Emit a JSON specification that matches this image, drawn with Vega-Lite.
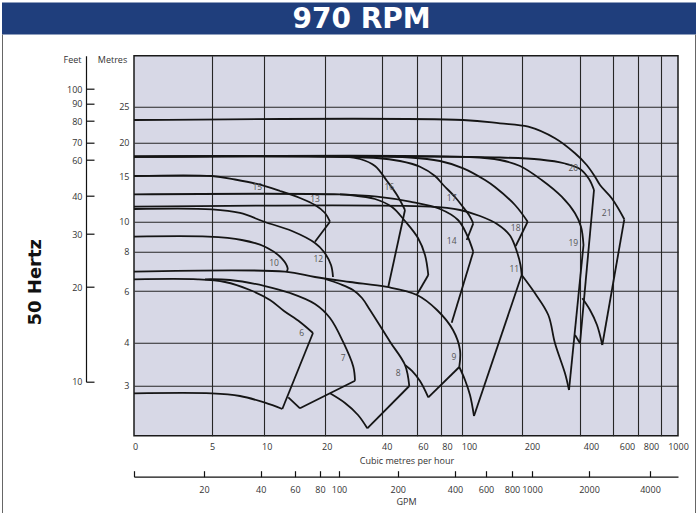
{
  "$schema": "https://vega.github.io/schema/vega-lite/v6.json",
  "width": 544,
  "height": 380,
  "autosize": {"type": "none"},
  "padding": {"left": 134, "top": 55.7, "right": 19, "bottom": 77.3},
  "background": "white",
  "config": {"font": "Open Sans"},
  "view": {"fill": "#d7d8e6", "stroke": "#1a1a1a", "strokeWidth": 1.5},
  "resolve": {"scale": {"x": "independent", "y": "independent"}, "axis": {"x": "independent", "y": "independent"}},
  "layer": [
    {
      "data": {"values": [
        {"s": "21t", "o": 1, "q": 0, "h": 23.153},
        {"s": "21t", "o": 2, "q": 101.67, "h": 23.153},
        {"s": "21t", "o": 3, "q": 163.33, "h": 22.694},
        {"s": "21t", "o": 4, "q": 221.72, "h": 22.222},
        {"s": "21t", "o": 5, "q": 313.79, "h": 20.611},
        {"s": "21t", "o": 6, "q": 382.76, "h": 18.408},
        {"s": "21t", "o": 7, "q": 440.61, "h": 16.652},
        {"s": "21t", "o": 8, "q": 490.91, "h": 14.923},
        {"s": "21t", "o": 9, "q": 521.21, "h": 14.015},
        {"s": "21t", "o": 10, "q": 592.12, "h": 12.56},
        {"s": "21t", "o": 11, "q": 690.4, "h": 10.263},
        {"s": "21r", "o": 1, "q": 690.4, "h": 10.263},
        {"s": "21r", "o": 2, "q": 535.15, "h": 3.947},
        {"s": "21b", "o": 1, "q": 413.94, "h": 5.718},
        {"s": "21b", "o": 2, "q": 460.61, "h": 5.265},
        {"s": "21b", "o": 3, "q": 503.03, "h": 4.685},
        {"s": "21b", "o": 4, "q": 535.15, "h": 3.947},
        {"s": "20t", "o": 1, "q": 0, "h": 17.898},
        {"s": "20t", "o": 2, "q": 163.33, "h": 17.778},
        {"s": "20t", "o": 3, "q": 262.07, "h": 17.477},
        {"s": "20t", "o": 4, "q": 348.28, "h": 16.877},
        {"s": "20t", "o": 5, "q": 400, "h": 16.051},
        {"s": "20t", "o": 6, "q": 454.55, "h": 14.672},
        {"s": "20t", "o": 7, "q": 484.85, "h": 13.468},
        {"s": "20r", "o": 1, "q": 484.85, "h": 13.468},
        {"s": "20r", "o": 2, "q": 400, "h": 3.986},
        {"s": "20b", "o": 1, "q": 382.76, "h": 4.298},
        {"s": "20b", "o": 2, "q": 400, "h": 3.986},
        {"s": "19t", "o": 1, "q": 0, "h": 17.898},
        {"s": "19t", "o": 2, "q": 113.33, "h": 17.853},
        {"s": "19t", "o": 3, "q": 163.33, "h": 17.402},
        {"s": "19t", "o": 4, "q": 196.67, "h": 16.502},
        {"s": "19t", "o": 5, "q": 267.93, "h": 14.562},
        {"s": "19t", "o": 6, "q": 336.9, "h": 12.735},
        {"s": "19t", "o": 7, "q": 382.76, "h": 10.919},
        {"s": "19t", "o": 8, "q": 406.06, "h": 9.667},
        {"s": "19t", "o": 9, "q": 421.21, "h": 8.447},
        {"s": "19r", "o": 1, "q": 421.21, "h": 8.447},
        {"s": "19r", "o": 2, "q": 362.07, "h": 2.914},
        {"s": "19b", "o": 1, "q": 199.5, "h": 6.814},
        {"s": "19b", "o": 2, "q": 244.83, "h": 5.911},
        {"s": "19b", "o": 3, "q": 290.69, "h": 5.072},
        {"s": "19b", "o": 4, "q": 313.79, "h": 3.986},
        {"s": "19b", "o": 5, "q": 348.28, "h": 3.288},
        {"s": "19b", "o": 6, "q": 362.07, "h": 2.914},
        {"s": "18t", "o": 1, "q": 0, "h": 17.898},
        {"s": "18t", "o": 2, "q": 56.0, "h": 17.778},
        {"s": "18t", "o": 3, "q": 79.17, "h": 17.252},
        {"s": "18t", "o": 4, "q": 102.17, "h": 16.156},
        {"s": "18t", "o": 5, "q": 138.33, "h": 14.562},
        {"s": "18t", "o": 6, "q": 155, "h": 13.796},
        {"s": "18t", "o": 7, "q": 188.33, "h": 11.827},
        {"s": "18t", "o": 8, "q": 219.66, "h": 10.0},
        {"s": "18r", "o": 1, "q": 219.66, "h": 10.0},
        {"s": "18r", "o": 2, "q": 189.5, "h": 8.38},
        {"s": "17t", "o": 1, "q": 0, "h": 17.898},
        {"s": "17t", "o": 2, "q": 38.14, "h": 17.703},
        {"s": "17t", "o": 3, "q": 50.29, "h": 17.252},
        {"s": "17t", "o": 4, "q": 62.5, "h": 16.396},
        {"s": "17t", "o": 5, "q": 75.0, "h": 15.0},
        {"s": "17t", "o": 6, "q": 82.19, "h": 14.015},
        {"s": "17t", "o": 7, "q": 93.33, "h": 12.702},
        {"s": "17t", "o": 8, "q": 101.67, "h": 11.609},
        {"s": "17t", "o": 9, "q": 111.67, "h": 10.733},
        {"s": "17t", "o": 10, "q": 118.83, "h": 9.893},
        {"s": "17r", "o": 1, "q": 118.83, "h": 9.893},
        {"s": "17r", "o": 2, "q": 107.83, "h": 8.78},
        {"s": "16t", "o": 1, "q": 0, "h": 17.898},
        {"s": "16t", "o": 2, "q": 26.32, "h": 17.883},
        {"s": "16t", "o": 3, "q": 32.28, "h": 17.553},
        {"s": "16t", "o": 4, "q": 37.54, "h": 16.502},
        {"s": "16t", "o": 5, "q": 42.86, "h": 14.453},
        {"s": "16t", "o": 6, "q": 48.57, "h": 12.921},
        {"s": "16t", "o": 7, "q": 53.14, "h": 11.28},
        {"s": "16r", "o": 1, "q": 53.14, "h": 11.28},
        {"s": "16r", "o": 2, "q": 43.6, "h": 6.219},
        {"s": "14t", "o": 1, "q": 0, "h": 12.998},
        {"s": "14t", "o": 2, "q": 25.26, "h": 12.987},
        {"s": "14t", "o": 3, "q": 38.25, "h": 12.735},
        {"s": "14t", "o": 4, "q": 56.0, "h": 12.188},
        {"s": "14t", "o": 5, "q": 79.17, "h": 11.39},
        {"s": "14t", "o": 6, "q": 96.19, "h": 10.186},
        {"s": "14t", "o": 7, "q": 108.33, "h": 9.113},
        {"s": "14t", "o": 8, "q": 118.83, "h": 8.0},
        {"s": "14r", "o": 1, "q": 118.83, "h": 8.0},
        {"s": "14r", "o": 2, "q": 90.19, "h": 4.774},
        {"s": "13t", "o": 1, "q": 25.26, "h": 12.987},
        {"s": "13t", "o": 2, "q": 28.77, "h": 12.921},
        {"s": "13t", "o": 3, "q": 37.54, "h": 12.484},
        {"s": "13t", "o": 4, "q": 45.71, "h": 11.609},
        {"s": "13t", "o": 5, "q": 53.14, "h": 10.077},
        {"s": "13t", "o": 6, "q": 60.83, "h": 8.913},
        {"s": "13t", "o": 7, "q": 66.67, "h": 7.832},
        {"s": "13t", "o": 8, "q": 69.42, "h": 6.814},
        {"s": "13r", "o": 1, "q": 69.42, "h": 6.814},
        {"s": "13r", "o": 2, "q": 59.83, "h": 5.845},
        {"s": "15t", "o": 1, "q": 0, "h": 15},
        {"s": "15t", "o": 2, "q": 5, "h": 15},
        {"s": "15t", "o": 3, "q": 7.21, "h": 14.617},
        {"s": "15t", "o": 4, "q": 9.33, "h": 14.125},
        {"s": "15t", "o": 5, "q": 12.62, "h": 13.359},
        {"s": "15t", "o": 6, "q": 15.9, "h": 12.593},
        {"s": "15t", "o": 7, "q": 18.36, "h": 11.827},
        {"s": "15t", "o": 8, "q": 20, "h": 10.952},
        {"s": "15t", "o": 9, "q": 21.75, "h": 10.0},
        {"s": "15r", "o": 1, "q": 21.75, "h": 10.0},
        {"s": "15r", "o": 2, "q": 18.36, "h": 8.667},
        {"s": "11t", "o": 1, "q": 0, "h": 11.641},
        {"s": "11t", "o": 2, "q": 70.83, "h": 11.641},
        {"s": "11t", "o": 3, "q": 98.1, "h": 11.28},
        {"s": "11t", "o": 4, "q": 130, "h": 10.624},
        {"s": "11t", "o": 5, "q": 158.33, "h": 9.847},
        {"s": "11t", "o": 6, "q": 180, "h": 9.08},
        {"s": "11t", "o": 7, "q": 191.67, "h": 7.985},
        {"s": "11t", "o": 8, "q": 197.5, "h": 7.323},
        {"s": "11t", "o": 9, "q": 199.5, "h": 6.814},
        {"s": "11r", "o": 1, "q": 199.5, "h": 6.814},
        {"s": "11r", "o": 2, "q": 120, "h": 2.394},
        {"s": "11b", "o": 1, "q": 97.43, "h": 3.435},
        {"s": "11b", "o": 2, "q": 105, "h": 3.133},
        {"s": "11b", "o": 3, "q": 113.33, "h": 2.814},
        {"s": "11b", "o": 4, "q": 120, "h": 2.394},
        {"s": "12t", "o": 1, "q": 0, "h": 11.39},
        {"s": "12t", "o": 2, "q": 5, "h": 11.357},
        {"s": "12t", "o": 3, "q": 7.69, "h": 10.952},
        {"s": "12t", "o": 4, "q": 10.16, "h": 9.98},
        {"s": "12t", "o": 5, "q": 14.59, "h": 9.38},
        {"s": "12t", "o": 6, "q": 18.36, "h": 8.58},
        {"s": "12t", "o": 7, "q": 19.84, "h": 7.985},
        {"s": "12t", "o": 8, "q": 22.11, "h": 7.323},
        {"s": "12t", "o": 9, "q": 22.81, "h": 6.712},
        {"s": "10t", "o": 1, "q": 0, "h": 9.0},
        {"s": "10t", "o": 2, "q": 4.74, "h": 9.0},
        {"s": "10t", "o": 3, "q": 7.86, "h": 8.78},
        {"s": "10t", "o": 4, "q": 10.16, "h": 8.333},
        {"s": "10t", "o": 5, "q": 12.9, "h": 7.664},
        {"s": "10t", "o": 6, "q": 13.88, "h": 7.155},
        {"s": "10t", "o": 7, "q": 13.72, "h": 6.982},
        {"s": "9t", "o": 1, "q": 0, "h": 6.982},
        {"s": "9t", "o": 2, "q": 13.44, "h": 6.982},
        {"s": "9t", "o": 3, "q": 18.36, "h": 6.712},
        {"s": "9t", "o": 4, "q": 28.77, "h": 6.458},
        {"s": "9t", "o": 5, "q": 42.86, "h": 6.204},
        {"s": "9t", "o": 6, "q": 60, "h": 5.845},
        {"s": "9t", "o": 7, "q": 76.67, "h": 5.265},
        {"s": "9t", "o": 8, "q": 91.43, "h": 4.491},
        {"s": "9t", "o": 9, "q": 98.1, "h": 3.83},
        {"s": "9t", "o": 10, "q": 97.43, "h": 3.435},
        {"s": "9r", "o": 1, "q": 97.43, "h": 3.435},
        {"s": "9r", "o": 2, "q": 69.42, "h": 2.768},
        {"s": "9b", "o": 1, "q": 53.14, "h": 3.481},
        {"s": "9b", "o": 2, "q": 57.14, "h": 3.342},
        {"s": "9b", "o": 3, "q": 62.5, "h": 3.109},
        {"s": "9b", "o": 4, "q": 69.42, "h": 2.768},
        {"s": "8t", "o": 1, "q": 20, "h": 6.611},
        {"s": "8t", "o": 2, "q": 25.26, "h": 6.356},
        {"s": "8t", "o": 3, "q": 29.82, "h": 6.051},
        {"s": "8t", "o": 4, "q": 32.98, "h": 5.729},
        {"s": "8t", "o": 5, "q": 35.79, "h": 5.265},
        {"s": "8t", "o": 6, "q": 44.57, "h": 4.039},
        {"s": "8t", "o": 7, "q": 53.14, "h": 3.481},
        {"s": "8t", "o": 8, "q": 55.6, "h": 2.994},
        {"s": "8r", "o": 1, "q": 55.6, "h": 2.994},
        {"s": "8r", "o": 2, "q": 34.84, "h": 2.148},
        {"s": "8b", "o": 1, "q": 21.75, "h": 2.848},
        {"s": "8b", "o": 2, "q": 27.02, "h": 2.654},
        {"s": "8b", "o": 3, "q": 31.58, "h": 2.414},
        {"s": "8b", "o": 4, "q": 34.84, "h": 2.148},
        {"s": "7t", "o": 1, "q": 4.55, "h": 6.595},
        {"s": "7t", "o": 2, "q": 6.73, "h": 6.56},
        {"s": "7t", "o": 3, "q": 10.16, "h": 6.254},
        {"s": "7t", "o": 4, "q": 14.26, "h": 5.923},
        {"s": "7t", "o": 5, "q": 18.36, "h": 5.497},
        {"s": "7t", "o": 6, "q": 21.75, "h": 4.955},
        {"s": "7t", "o": 7, "q": 26.32, "h": 4.039},
        {"s": "7t", "o": 8, "q": 29.93, "h": 3.442},
        {"s": "7t", "o": 9, "q": 30.53, "h": 3.116},
        {"s": "7r", "o": 1, "q": 30.53, "h": 3.116},
        {"s": "7r", "o": 2, "q": 15.9, "h": 2.548},
        {"s": "7b", "o": 1, "q": 13.98, "h": 2.768},
        {"s": "7b", "o": 2, "q": 15.9, "h": 2.548},
        {"s": "6t", "o": 1, "q": 0, "h": 6.595},
        {"s": "6t", "o": 2, "q": 4.1, "h": 6.595},
        {"s": "6t", "o": 3, "q": 6.25, "h": 6.458},
        {"s": "6t", "o": 4, "q": 8.65, "h": 6.051},
        {"s": "6t", "o": 5, "q": 10.98, "h": 5.652},
        {"s": "6t", "o": 6, "q": 13.28, "h": 5.226},
        {"s": "6t", "o": 7, "q": 15.9, "h": 4.801},
        {"s": "6t", "o": 8, "q": 18.03, "h": 4.375},
        {"s": "6r", "o": 1, "q": 18.03, "h": 4.375},
        {"s": "6r", "o": 2, "q": 13.0, "h": 2.534},
        {"s": "6b", "o": 1, "q": 0, "h": 2.848},
        {"s": "6b", "o": 2, "q": 4.98, "h": 2.848},
        {"s": "6b", "o": 3, "q": 7.69, "h": 2.794},
        {"s": "6b", "o": 4, "q": 10.16, "h": 2.66},
        {"s": "6b", "o": 5, "q": 13.0, "h": 2.534}
      ]},
      "mark": {"type": "line", "color": "#151515", "strokeWidth": 1.8, "interpolate": "catmull-rom"},
      "encoding": {
        "x": {"field": "q", "type": "quantitative",
              "scale": {"domain": [0, 5, 10, 20, 40, 60, 80, 100, 200, 400, 600, 800, 1000, 1200], "range": [0, 78, 130, 191, 248, 283, 307, 328, 388, 446, 479, 504, 527, 544], "nice": false, "zero": false},
              "axis": {"grid": true, "values": [5, 10, 20, 40, 60, 80, 100, 200, 400, 600, 800, 1000], "labels": false, "ticks": false, "domain": false, "title": null, "gridColor": "#262626", "gridWidth": 1.1, "gridOpacity": 1}},
        "y": {"field": "h", "type": "quantitative",
              "scale": {"domain": [2, 3, 4, 6, 8, 10, 15, 20, 25, 37], "range": [380, 330, 287, 235.3, 196, 166, 120.3, 87, 51, 0], "nice": false, "zero": false},
              "axis": {"orient": "left", "grid": true, "values": [3, 4, 6, 8, 10, 15, 20, 25], "ticks": false, "domain": false, "labelFontSize": 9, "labelColor": "#333", "labelPadding": 5, "gridColor": "#262626", "gridWidth": 1.1, "gridOpacity": 1,
                       "title": "Metres", "titleAngle": 0, "titleX": -22, "titleY": 4, "titleAlign": "center", "titleBaseline": "middle", "titleFontSize": 9, "titleFontWeight": "normal", "titleColor": "#333"}},
        "detail": {"field": "s"},
        "order": {"field": "o"}
      }
    },
    {
      "data": {"values": [
        {"n": "6", "q": 16.18, "h": 4.387},
        {"n": "7", "q": 26.42, "h": 3.637},
        {"n": "8", "q": 49.31, "h": 3.288},
        {"n": "9", "q": 92.38, "h": 3.674},
        {"n": "10", "q": 11.64, "h": 7.44},
        {"n": "11", "q": 187.2, "h": 7.104},
        {"n": "12", "q": 18.9, "h": 7.613},
        {"n": "13", "q": 18.36, "h": 12.45},
        {"n": "14", "q": 90.19, "h": 8.733},
        {"n": "15", "q": 9.356, "h": 13.76},
        {"n": "16", "q": 44.17, "h": 13.76},
        {"n": "17", "q": 90.19, "h": 12.56},
        {"n": "18", "q": 189.5, "h": 9.6},
        {"n": "19", "q": 376.9, "h": 8.56},
        {"n": "20", "q": 376.9, "h": 16.16},
        {"n": "21", "q": 561.8, "h": 10.92}
      ]},
      "mark": {"type": "text", "fontSize": 8.5, "color": "#555"},
      "encoding": {
        "x": {"field": "q", "type": "quantitative", "scale": {"domain": [0, 5, 10, 20, 40, 60, 80, 100, 200, 400, 600, 800, 1000, 1200], "range": [0, 78, 130, 191, 248, 283, 307, 328, 388, 446, 479, 504, 527, 544], "nice": false, "zero": false}, "axis": null},
        "y": {"field": "h", "type": "quantitative", "scale": {"domain": [2, 3, 4, 6, 8, 10, 15, 20, 25, 37], "range": [380, 330, 287, 235.3, 196, 166, 120.3, 87, 51, 0], "nice": false, "zero": false}, "axis": null},
        "text": {"field": "n"}
      }
    },
    {
      "data": {"values": [{"ft": 10}, {"ft": 20}, {"ft": 30}, {"ft": 40}, {"ft": 60}, {"ft": 70}, {"ft": 80}, {"ft": 90}, {"ft": 100}]},
      "mark": {"type": "point", "opacity": 0},
      "encoding": {
        "y": {"field": "ft", "type": "quantitative",
              "scale": {"domain": [10, 20, 30, 40, 60, 70, 80, 90, 100, 135], "range": [326, 231.3, 178.3, 140.3, 104.3, 86.6, 65.3, 47.8, 33.3, 0], "nice": false, "zero": false},
              "axis": {"orient": "left", "offset": 48, "values": [10, 20, 30, 40, 60, 70, 80, 90, 100], "tickSize": -8, "tickColor": "#111", "tickWidth": 1.2, "domainColor": "#111", "domainWidth": 1.2, "labelPadding": 12, "labelFontSize": 9, "labelColor": "#333", "grid": false,
                       "title": "Feet", "titleAngle": 0, "titleX": -14, "titleY": 4, "titleAlign": "center", "titleBaseline": "middle", "titleFontSize": 9, "titleFontWeight": "normal", "titleColor": "#333"}}
      }
    },
    {
      "data": {"values": [{"v": 0}, {"v": 1}]},
      "mark": {"type": "point", "opacity": 0},
      "encoding": {
        "y": {"field": "v", "type": "quantitative", "scale": {"domain": [0, 1], "range": [457.3, -21.7], "nice": false, "zero": false},
              "axis": {"orient": "left", "offset": 132, "domain": true, "domainColor": "#666", "domainWidth": 1, "ticks": false, "labels": false, "grid": false,
                       "title": "50 Hertz", "titleAngle": -90, "titleX": 33, "titleY": 226, "titleAlign": "center", "titleBaseline": "middle", "titleFont": "DejaVu Sans", "titleFontSize": 18, "titleFontWeight": "bold", "titleColor": "#111"}}
      }
    },
    {
      "data": {"values": [{"v": 0}, {"v": 1}]},
      "mark": {"type": "point", "opacity": 0},
      "encoding": {
        "y": {"field": "v", "type": "quantitative", "scale": {"domain": [0, 1], "range": [457.3, -21.7], "nice": false, "zero": false},
              "axis": {"orient": "right", "offset": 17, "domain": true, "domainColor": "#666", "domainWidth": 1, "ticks": false, "labels": false, "grid": false, "title": null}}
      }
    },
    {
      "data": {"values": [{"v": 0}, {"v": 1}]},
      "mark": {"type": "point", "opacity": 0},
      "encoding": {
        "x": {"field": "v", "type": "quantitative", "scale": {"domain": [0, 1], "range": [-132.5, 561.5], "nice": false, "zero": false},
              "axis": {"orient": "top", "offset": 37.7, "domain": true, "domainColor": "#1f3e7c", "domainWidth": 32, "ticks": false, "labels": false, "grid": false,
                       "title": "970 RPM", "titleX": 227, "titleY": 1, "titleAlign": "center", "titleBaseline": "middle", "titleFont": "DejaVu Sans", "titleFontSize": 28, "titleFontWeight": "bold", "titleColor": "white"}}
      }
    },
    {
      "data": {"values": [{"q": 0}, {"q": 5}, {"q": 10}, {"q": 20}, {"q": 40}, {"q": 60}, {"q": 80}, {"q": 100}, {"q": 200}, {"q": 400}, {"q": 600}, {"q": 800}, {"q": 1000}]},
      "mark": {"type": "point", "opacity": 0},
      "encoding": {
        "x": {"field": "q", "type": "quantitative",
              "scale": {"domain": [0, 5, 10, 20, 40, 60, 80, 100, 200, 400, 600, 800, 1000], "range": [1, 78, 132.7, 192.7, 252.7, 289, 313, 335, 398, 457, 493, 517, 544], "nice": false, "zero": false},
              "axis": {"orient": "bottom", "offset": 0, "values": [0, 5, 10, 20, 40, 60, 80, 100, 200, 400, 600, 800, 1000], "format": "d", "ticks": false, "domain": false, "grid": false, "labelFlush": false, "labelPadding": 7, "labelFontSize": 9, "labelColor": "#333",
                       "title": "Cubic metres per hour", "titlePadding": 5, "titleFontSize": 9, "titleFontWeight": "normal", "titleColor": "#333"}}
      }
    },
    {
      "data": {"values": [{"g": 0}, {"g": 20}, {"g": 40}, {"g": 60}, {"g": 80}, {"g": 100}, {"g": 200}, {"g": 400}, {"g": 600}, {"g": 800}, {"g": 1000}, {"g": 2000}, {"g": 4000}]},
      "mark": {"type": "point", "opacity": 0},
      "encoding": {
        "x": {"field": "g", "type": "quantitative",
              "scale": {"domain": [0, 20, 40, 60, 80, 100, 200, 400, 600, 800, 1000, 2000, 4000, 5600], "range": [0, 70, 126.7, 161, 186, 205, 263.7, 321, 352, 378, 398, 455, 516, 544], "nice": false, "zero": false},
              "axis": {"orient": "bottom", "offset": 41, "values": [0, 20, 40, 60, 80, 100, 200, 400, 600, 800, 1000, 2000, 4000], "format": "d", "labelExpr": "datum.value == 0 ? '' : datum.label", "tickSize": -6, "tickColor": "#111", "tickWidth": 1.2, "domain": true, "domainColor": "#111", "domainWidth": 1.2, "grid": false, "labelFlush": false, "labelPadding": 15, "labelFontSize": 9, "labelColor": "#333",
                       "title": "GPM", "titlePadding": 3, "titleFontSize": 9, "titleFontWeight": "normal", "titleColor": "#333"}}
      }
    }
  ]
}
